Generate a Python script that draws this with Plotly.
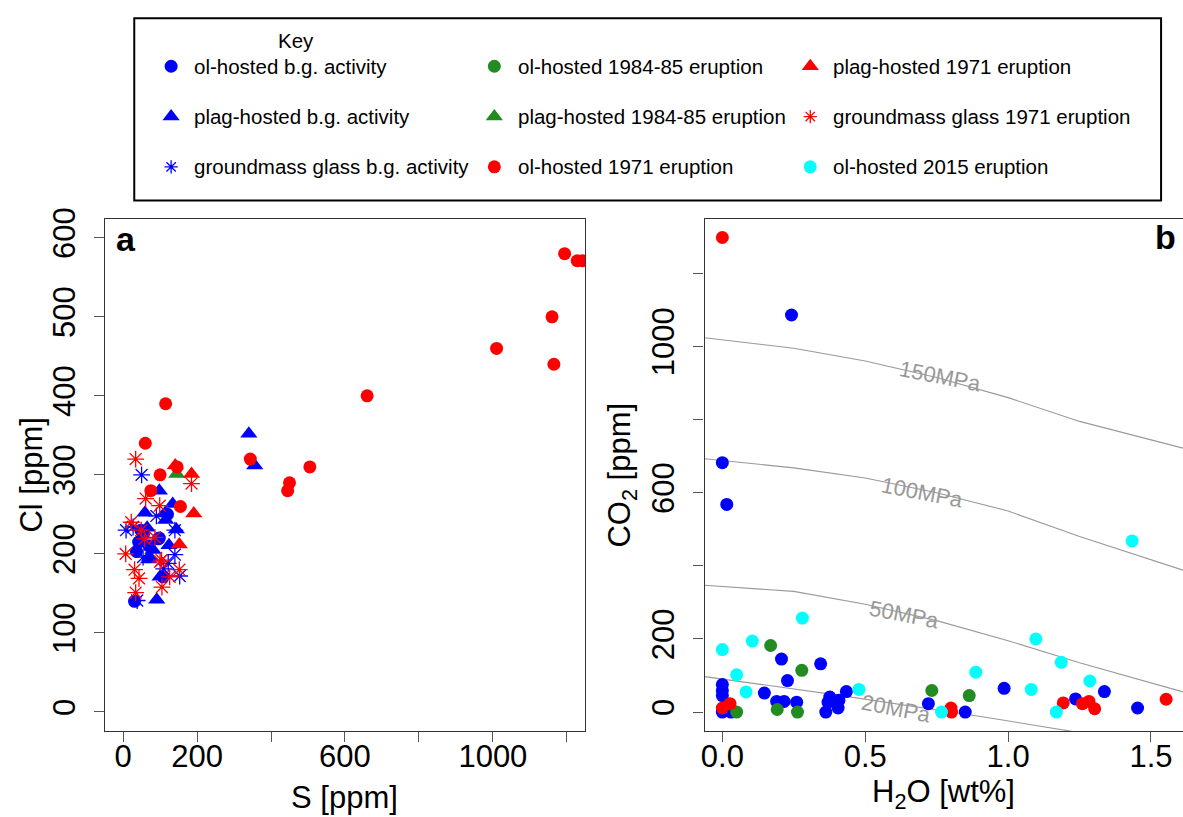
import plotly.graph_objects as go

# ---------------- data: panel a (S vs Cl) ----------------
bg_ol_S = [31, 36, 42, 55, 95, 98, 120, 108, 70, 48]
bg_ol_Cl = [140, 203, 215, 225, 219, 220, 250, 171, 210, 230]
bg_pl_S = [340, 356, 91, 98, 59, 134, 115, 144, 65, 69, 124, 100, 113, 81, 72]
bg_pl_Cl = [352, 312, 142, 280, 252, 263, 243, 231, 233, 193, 211, 171, 251, 205, 196]
bg_gm_S = [8, 50, 38, 90, 140, 140, 122, 153, 54, 27, 110]
bg_gm_Cl = [230, 300, 141, 248, 230, 199, 188, 172, 196, 234, 181]
e84_pl_S = [145]
e84_pl_Cl = [301]
e71_ol_S = [1194, 1228, 1242, 1160, 1010, 1165, 660, 505, 450, 445, 344, 115, 60, 100, 75, 146, 155]
e71_ol_Cl = [580, 571, 571, 500, 460, 440, 400, 310, 290, 280, 320, 390, 340, 300, 280, 310, 260]
e71_pl_S = [141, 185, 191, 152]
e71_pl_Cl = [312, 301, 251, 212]
e71_gm_S = [34, 185, 61, 99, 22, 49, 58, 86, 7, 31, 43, 34, 104, 105, 126, 152, 100]
e71_gm_Cl = [320, 289, 270, 261, 240, 230, 219, 221, 200, 180, 169, 151, 192, 158, 171, 180, 190]

# ---------------- data: panel b (H2O vs CO2) ----------------
b_bg_H = [0, 0.0155, 0.242, 0, 0, 0, 0, 0.03, 0.207, 0.228, 0.147, 0.19, 0.216, 0.26, 0.344,
          0.362, 0.376, 0.37, 0.405, 0.408, 0.434, 0.721, 0.85, 0.986, 1.236, 1.337, 1.453]
b_bg_C = [682, 568, 1086, 75, 59, 45, 0, 0, 145, 86, 52, 29, 29, 27, 132,
          0, 41, 27, 11, 32, 56, 23, 0, 65, 36, 56, 11]
b_84_H = [0.169, 0.278, 0.05, 0.192, 0.263, 0.733, 0.864]
b_84_C = [182, 114, 0, 7, 0, 59, 45]
b_71_H = [0, 0, 0.027, 0.8, 0.802, 1.193, 1.26, 1.283, 1.303, 1.553]
b_71_C = [1298, 11, 23, 11, 0, 25, 23, 29, 9, 35]
b_15_H = [0, 0.105, 0.28, 0.05, 0.083, 0.478, 0.767, 0.887, 1.097, 1.186, 1.081, 1.169, 1.286, 1.434]
b_15_C = [171, 194, 257, 102, 55, 62, 0, 109, 200, 136, 62, 0, 85, 468]

# isobars
iso_H = [-0.062, 0.25, 0.5, 0.75, 1.0, 1.25, 1.612]
iso150_C = [1024, 995, 960, 915, 860, 795, 722]
iso100_C = [693, 668, 640, 600, 550, 480, 388]
iso50_C = [347, 330, 295, 250, 195, 135, 55]
iso20_H = [-0.062, 0.416, 0.904, 1.24]
iso20_C = [97, 45, -12, -55]
iso_labels = ["150MPa", "100MPa", "50MPa", "20MPa"]
iso_label_H = [0.765, 0.70, 0.636, 0.607]
iso_label_C = [919, 600, 266, 10]

# axis ticks
a_x_labeled = [0, 200, 600, 1000]
a_x_minor = [400, 800, 1200]
a_y_ticks = [0, 100, 200, 300, 400, 500, 600]
b_x_ticks = [0, 0.5, 1.0, 1.5]
b_x_text = ["0.0", "0.5", "1.0", "1.5"]
b_y_labeled = [0, 200, 600, 1000]
b_y_minor = [400, 800, 1200]

# legend
leg_labels = [["ol-hosted b.g. activity", "plag-hosted b.g. activity", "groundmass glass b.g. activity"],
              ["ol-hosted 1984-85 eruption", "plag-hosted 1984-85 eruption", "ol-hosted 1971 eruption"],
              ["plag-hosted 1971 eruption", "groundmass glass 1971 eruption", "ol-hosted 2015 eruption"]]
leg_colors = [["#0000FF", "#0000FF", "#0000FF"],
              ["#228B22", "#228B22", "#FF0000"],
              ["#FF0000", "#FF0000", "#00FFFF"]]
leg_symbols = [["circle", "triangle-up", "asterisk-open"],
               ["circle", "triangle-up", "circle"],
               ["triangle-up", "asterisk-open", "circle"]]

BLUE, RED, GREEN, CYAN = "#0000FF", "#FF0000", "#228B22", "#00FFFF"
FONT = "Liberation Sans, Arial, sans-serif"

W, H = 1183, 817


def px(x):
    return x / W


def py(y):
    return 1 - y / H


def mk(symbol, color, size):
    if symbol.startswith("asterisk"):
        return dict(symbol=symbol, size=size + 1, color=color, line=dict(color=color, width=1.3))
    return dict(symbol=symbol, size=size, color=color, line=dict(width=0))


fig = go.Figure()

# panel a
for xs, ys, sym, col in [(bg_ol_S, bg_ol_Cl, "circle", BLUE),
                         (bg_pl_S, bg_pl_Cl, "triangle-up", BLUE),
                         (bg_gm_S, bg_gm_Cl, "asterisk-open", BLUE),
                         (e84_pl_S, e84_pl_Cl, "triangle-up", GREEN),
                         (e71_ol_S, e71_ol_Cl, "circle", RED),
                         (e71_pl_S, e71_pl_Cl, "triangle-up", RED),
                         (e71_gm_S, e71_gm_Cl, "asterisk-open", RED)]:
    size = 15 if sym == "triangle-up" else 13
    fig.add_trace(go.Scatter(x=xs, y=ys, mode="markers", marker=mk(sym, col, size),
                             xaxis="x", yaxis="y", showlegend=False, cliponaxis=True))

# panel b isobars
for cs in [iso150_C, iso100_C, iso50_C]:
    fig.add_trace(go.Scatter(x=iso_H, y=cs, mode="lines", line=dict(color="#999999", width=1.1),
                             xaxis="x2", yaxis="y2", showlegend=False))
fig.add_trace(go.Scatter(x=iso20_H, y=iso20_C, mode="lines", line=dict(color="#999999", width=1.1),
                         xaxis="x2", yaxis="y2", showlegend=False))

for xs, ys, col in [(b_bg_H, b_bg_C, BLUE), (b_84_H, b_84_C, GREEN),
                    (b_71_H, b_71_C, RED), (b_15_H, b_15_C, CYAN)]:
    fig.add_trace(go.Scatter(x=xs, y=ys, mode="markers", marker=mk("circle", col, 13),
                             xaxis="x2", yaxis="y2", showlegend=False, cliponaxis=True))

# legend markers (overlay axis in pixel units)
leg_mx = [167.7, 492, 809]
leg_tx = [189, 514, 830]
leg_y = [56, 107, 158]
for c in range(3):
    for r in range(3):
        sym = leg_symbols[c][r]
        size = 15 if sym == "triangle-up" else 13
        if sym.startswith("asterisk"):
            size = 10
        fig.add_trace(go.Scatter(x=[leg_mx[c]], y=[leg_y[r]], mode="markers",
                                 marker=mk(sym, leg_colors[c][r], size),
                                 xaxis="x3", yaxis="y3", showlegend=False))

annotations = []
for c in range(3):
    for r in range(3):
        annotations.append(dict(x=leg_tx[c], y=leg_y[r], xref="x3", yref="y3", text=leg_labels[c][r],
                                showarrow=False, xanchor="left", yanchor="middle",
                                font=dict(family=FONT, size=20.5, color="black")))
annotations.append(dict(x=293, y=30, xref="x3", yref="y3", text="Key", showarrow=False,
                        xanchor="center", yanchor="middle", font=dict(family=FONT, size=20.5, color="black")))

# isobar labels
for t, hx, cy in zip(iso_labels, iso_label_H, iso_label_C):
    annotations.append(dict(x=hx, y=cy, xref="x2", yref="y2", text=t, showarrow=False,
                            textangle=11, font=dict(family=FONT, size=22, color="#999999")))

# panel labels
annotations.append(dict(x=px(122.5), y=py(231), xref="paper", yref="paper", text="<b>a</b>",
                        showarrow=False, xanchor="center", yanchor="middle",
                        font=dict(family=FONT, size=34, color="black")))
annotations.append(dict(x=px(1165), y=py(229), xref="paper", yref="paper", text="<b>b</b>",
                        showarrow=False, xanchor="center", yanchor="middle",
                        font=dict(family=FONT, size=34, color="black")))

# axis titles
for t, x, y, ang in [("S [ppm]", 342, 797, 0), ("Cl [ppm]", 28, 470, -90),
                     ("H<sub>2</sub>O [wt%]", 943, 794, 0), ("CO<sub>2</sub> [ppm]", 620, 470, -90)]:
    annotations.append(dict(x=px(x), y=py(y), xref="paper", yref="paper", text=t, showarrow=False,
                            xanchor="center", yanchor="middle", textangle=ang,
                            font=dict(family=FONT, size=31, color="black")))

axis_common = dict(showgrid=False, zeroline=False, showline=True, linecolor="#333333", linewidth=1.3,
                   ticks="outside", ticklen=10, tickwidth=1.3, tickcolor="#555555",
                   tickfont=dict(family=FONT, size=31, color="black"))


def minor(vals):
    return dict(tickvals=vals, ticks="outside", ticklen=10, tickwidth=1.3, tickcolor="#555555",
                showgrid=False)


fig.update_layout(
    width=W, height=H, margin=dict(l=0, r=0, t=0, b=0),
    paper_bgcolor="white", plot_bgcolor="rgba(0,0,0,0)",
    xaxis=dict(domain=[px(101.7), px(583.3)], range=[-48, 1250], anchor="y", mirror=True,
               tickmode="array", tickvals=a_x_labeled, minor=minor(a_x_minor),
               ticklabelstandoff=-12, **axis_common),
    yaxis=dict(domain=[py(729.7), py(210.7)], range=[-24, 624], anchor="x", mirror=True,
               tickmode="array", tickvals=a_y_ticks, tickangle=-90,
               ticklabelstandoff=7, **axis_common),
    xaxis2=dict(domain=[px(703), 1.0], range=[-0.062, 1.612], anchor="y2", mirror=True,
                tickmode="array", tickvals=b_x_ticks, ticktext=b_x_text,
                ticklabelstandoff=-12, **axis_common),
    yaxis2=dict(domain=[py(729.7), py(210.7)], range=[-51.5, 1349], anchor="x2", mirror=False,
                tickmode="array", tickvals=b_y_labeled, minor=minor(b_y_minor), tickangle=-90,
                ticklabelstandoff=7, **axis_common),
    xaxis3=dict(domain=[0, 1], range=[0, W], anchor="y3", visible=False),
    yaxis3=dict(domain=[py(196), 1], range=[196, 0], anchor="x3", visible=False),
    annotations=annotations,
    shapes=[dict(type="rect", xref="paper", yref="paper", x0=px(130.7), x1=px(1161),
                 y0=py(192), y1=py(7.3), line=dict(color="black", width=2))],
)

fig.write_html("out.html")
